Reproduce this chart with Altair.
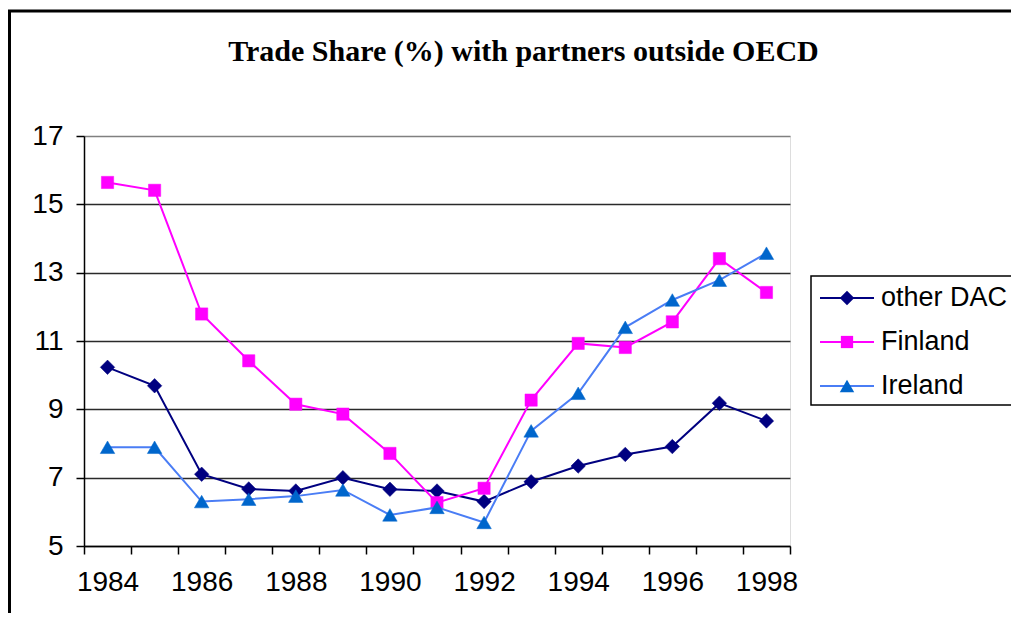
import altair as alt
import pandas as pd

years = list(range(1984, 1999))
series_names = ["other DAC", "Finland", "Ireland"]
other_dac = [10.23, 9.69, 7.10, 6.67, 6.61, 7.00, 6.66, 6.61, 6.30, 6.88, 7.34, 7.68, 7.91, 9.18, 8.66]
finland = [15.64, 15.41, 11.79, 10.42, 9.15, 8.86, 7.71, 6.27, 6.69, 9.27, 10.93, 10.81, 11.56, 13.41, 12.42]
ireland = [7.89, 7.89, 6.30, 6.37, 6.46, 6.64, 5.91, 6.13, 5.69, 8.37, 9.47, 11.40, 12.20, 12.78, 13.57]
y_ticks = [5, 7, 9, 11, 13, 15, 17]
title_text = "Trade Share (%) with partners outside OECD"

line_colors = ["#000080", "#FF00FF", "#4A7DF5"]
marker_colors = ["#000080", "#FF00FF", "#0066CC"]
shapes = ["diamond", "square", "triangle-up"]
marker_sizes = [210, 150, 210]

rows = []
for name, vals in zip(series_names, [other_dac, finland, ireland]):
    for yr, v in zip(years, vals):
        rows.append({"year": yr, "value": v, "series": name})
df = pd.DataFrame(rows)

W, H = 706, 410
FONT = "Liberation Sans"
FS = 28

x_enc = alt.X(
    "year:O",
    scale=alt.Scale(type="band", paddingInner=0, paddingOuter=0),
    axis=alt.Axis(
        title=None, tickBand="extent", labelAngle=0,
        labelExpr="datum.value % 2 == 0 ? datum.label : ''",
        labelFont=FONT, labelFontSize=FS, labelColor="black",
        labelPadding=14, tickSize=8, tickColor="black", tickWidth=1.5,
        domainColor="black", domainWidth=1.5, grid=False,
    ),
)
y_enc = alt.Y(
    "value:Q",
    scale=alt.Scale(domain=[5, 17], nice=False, zero=False),
    axis=alt.Axis(
        title=None, values=y_ticks, labelFont=FONT, labelFontSize=FS,
        labelColor="black", labelPadding=13, tickSize=8, tickColor="black",
        tickWidth=1.5, domainColor="black", domainWidth=1.5,
        grid=True,
        gridColor={"condition": {"test": "datum.value === 17", "value": "#808080"}, "value": "#2a2a2a"},
        gridWidth=1.3,
    ),
)

layers = []
for name, lc, mc, sh, sz in zip(series_names, line_colors, marker_colors, shapes, marker_sizes):
    sub = df[df["series"] == name]
    layers.append(
        alt.Chart(sub).mark_line(color=lc, strokeWidth=2).encode(x=x_enc, y=y_enc)
    )
    layers.append(
        alt.Chart(sub).mark_point(shape=sh, filled=True, color=mc, size=sz, opacity=1,
                                  stroke=mc, strokeWidth=0.5).encode(x=x_enc, y=y_enc)
    )

# outer chart border
border = alt.Chart(pd.DataFrame({"a": [0]})).mark_rect(
    fill=None, stroke="black", strokeWidth=3, clip=False
).encode(x=alt.value(-74.5), x2=alt.value(1100), y=alt.value(-125), y2=alt.value(700))

# title
title = alt.Chart(pd.DataFrame({"t": [title_text]})).mark_text(
    align="center", baseline="alphabetic", font="Liberation Serif",
    fontSize=30, fontWeight="bold", color="black"
).encode(x=alt.value(439.5), y=alt.value(-75), text="t:N")

# legend
leg_box = alt.Chart(pd.DataFrame({"a": [0]})).mark_rect(
    fill="white", stroke="black", strokeWidth=1.5
).encode(x=alt.value(727), x2=alt.value(1000), y=alt.value(140), y2=alt.value(269))
legend_layers = [leg_box]
for i, (name, lc, mc, sh, sz) in enumerate(zip(series_names, line_colors, marker_colors, shapes, marker_sizes)):
    ly = 162 + i * 44
    d = pd.DataFrame({"series": [name]})
    legend_layers.append(alt.Chart(d).mark_rule(color=lc, strokeWidth=2).encode(
        x=alt.value(736), x2=alt.value(790), y=alt.value(ly)))
    legend_layers.append(alt.Chart(d).mark_point(shape=sh, filled=True, color=mc, size=sz, opacity=1).encode(
        x=alt.value(763), y=alt.value(ly)))
    legend_layers.append(alt.Chart(d).mark_text(
        align="left", baseline="middle", font=FONT, fontSize=27, color="black"
    ).encode(x=alt.value(797), y=alt.value(ly), text="series:N"))

chart = alt.layer(border, title, *layers, *legend_layers).properties(
    width=W, height=H,
    autosize=alt.AutoSizeParams(type="none"),
    padding={"left": 76, "top": 128, "right": 221, "bottom": 67},
).configure_view(
    stroke="#808080", strokeWidth=2
).configure(background="white")

chart.save("out.html", embed_options={"renderer": "svg", "actions": False})
